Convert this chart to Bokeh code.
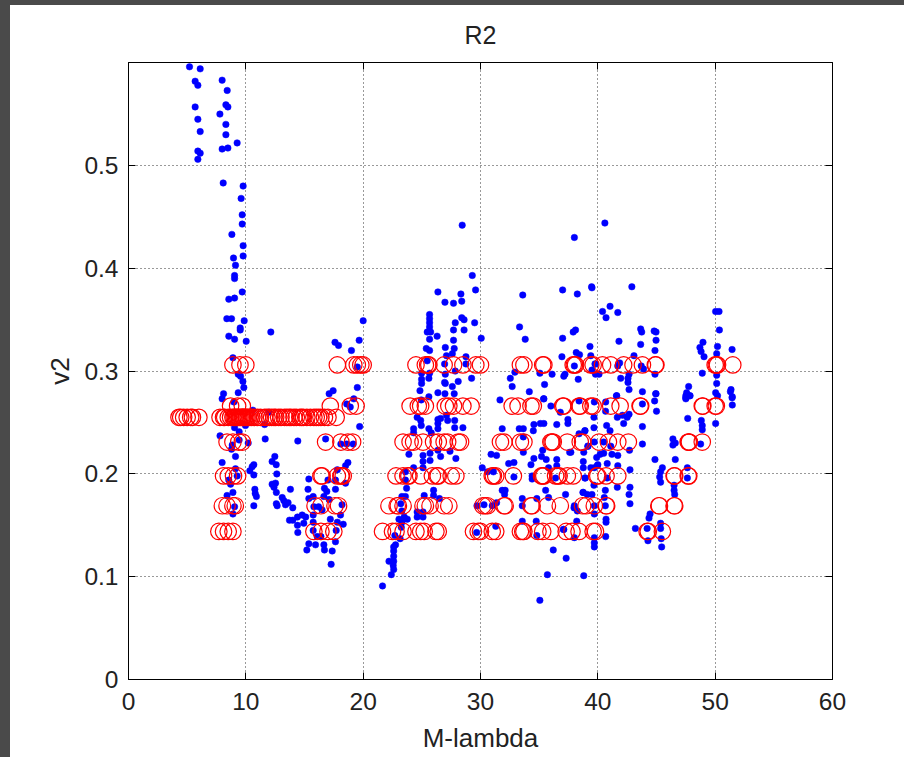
from bokeh.embed import file_html
from bokeh.resources import INLINE
from bokeh.plotting import figure
from bokeh.models import FixedTicker, LinearAxis, Range1d, ColumnDataSource

title = "R2"
x_label = "M-lambda"
y_label = "v2"
x_ticks = [0, 10, 20, 30, 40, 50, 60]
y_ticks = [0, 0.1, 0.2, 0.3, 0.4, 0.5]
x_tick_labels = ["0", "10", "20", "30", "40", "50", "60"]
y_tick_labels = ["0", "0.1", "0.2", "0.3", "0.4", "0.5"]

blue_points = [
(5.20,.596),(6.11,.594),(5.68,.582),(5.91,.578),(7.98,.583),(8.41,.573),(5.68,.557),(8.30,.559),(8.47,.557),(7.79,.550),
(5.91,.545),(8.30,.540),(6.11,.533),(8.30,.530),(9.26,.522),(8.47,.517),(7.98,.516),(5.91,.514),(6.11,.512),(5.91,.506),
(8.07,.483),(9.77,.480),(9.60,.468),(9.69,.452),(9.69,.443),(8.81,.433),(9.77,.422),(9.77,.412),(8.95,.410),(9.12,.403),
(9.04,.393),(9.04,.390),(9.69,.377),(9.04,.371),(8.55,.370),(8.38,.351),(8.78,.351),(9.86,.349),(9.52,.342),(9.52,.340),
(12.13,.338),(8.55,.334),(9.04,.331),(10.03,.329),(20.0,.349),(19.66,.330),(17.6,.328),(17.9,.325),(19.0,.320),(8.9,.313),
(19.5,.304),(9.35,.297),(9.55,.295),(9.75,.290),(9.83,.284),(9.35,.279),(8.1,.278),(7.98,.273),(8.98,.270),(10.6,.262),
(11.96,.260),(11.6,.248),(9.04,.245),(9.43,.241),(9.97,.247),(7.8,.237),(10.2,.230),(11.65,.234),(14.43,.232),(9.43,.233),
(8.84,.228),(8.78,.224),(9.12,.217),(7.98,.211),(12.47,.217),(12.24,.212),(12.59,.209),(10.68,.209),(10.54,.207),(10.34,.203),
(10.68,.199),(12.64,.200),(9.12,.205),(9.26,.198),(8.55,.194),(8.7,.190),(8.9,.182),(8.4,.179),(10.77,.185),(10.8,.181),
(10.9,.178),(10.68,.169),(12.24,.190),(12.53,.191),(12.4,.187),(12.6,.182),(12.6,.171),(12.67,.169),(13.1,.177),(13.24,.174),
(13.38,.170),(13.6,.172),(14.0,.167),(9.04,.168),(8.9,.161),(13.8,.185),(13.72,.155),(14.0,.155),(14.4,.158),(14.8,.160),
(15.1,.158),(14.4,.150),(14.94,.152),(14.43,.143),(15.37,.195),(15.3,.185),(15.37,.176),(15.74,.178),(16.7,.186),(16.9,.183),
(17.64,.185),(17.8,.204),(17.0,.194),(18.5,.208),(18.7,.211),(17.64,.194),(18.5,.191),(16.65,.178),(17.1,.175),(18.2,.170),
(18.07,.160),(17.8,.153),(18.3,.151),(17.2,.156),(15.8,.168),(15.74,.160),(15.74,.153),(16.5,.165),(16.2,.168),(15.74,.145),
(16.08,.139),(16.4,.139),(15.37,.132),(15.2,.126),(15.94,.131),(16.65,.131),(16.7,.126),(17.64,.134),(17.36,.125),(17.27,.112),
(17.7,.145),(16.8,.234),(17.1,.278),(17.44,.281),(19.5,.284),(19.2,.273),(18.6,.268),(19.7,.246),(18.9,.265),(18.1,.229),
(18.6,.229),(19.15,.229),
(28.44,.442),(38.0,.430),(29.3,.393),(29.58,.379),(26.37,.377),(28.33,.375),(26.97,.367),(27.7,.366),(28.4,.368),(25.66,.355),
(25.66,.351),(25.66,.347),(25.66,.343),(25.46,.338),(25.75,.338),(25.66,.331),(26.3,.334),(28.4,.352),(28.6,.350),(27.85,.347),
(29.5,.347),(27.7,.340),(28.6,.340),(27.7,.330),(30.06,.332),(25.38,.322),(25.66,.320),(27.0,.323),(27.76,.322),(27.6,.317),
(27.1,.315),(28.76,.314),(28.76,.307),(25.46,.310),(26.94,.307),(25.66,.298),(27.85,.300),(24.98,.298),(27.0,.297),(24.98,.292),
(24.98,.288),(25.6,.293),(26.94,.289),(27.0,.288),(28.1,.290),(29.24,.293),(27.6,.285),(24.84,.281),(26.37,.279),(26.97,.278),
(27.76,.278),(25.6,.275),(24.95,.272),
(33.6,.374),(33.33,.343),(33.81,.331),(32.93,.299),(32.54,.293),(32.7,.285),(34.16,.280),(31.66,.272),(35.06,.298),(35.46,.287),
(36.1,.297),(35.38,.273),(37.0,.379),(38.25,.375),(39.47,.382),(37.9,.338),(38.1,.340),(37.0,.332),(36.94,.314),(38.16,.318),
(38.44,.316),(38.0,.305),(37.1,.295),(37.2,.297),(38.33,.292),(39.33,.324),(39.4,.315),(39.8,.307),(39.5,.301),(39.8,.297),(40.1,.297),
(40.6,.444),(42.9,.382),(39.5,.381),(40.4,.358),(41.04,.363),(40.7,.352),(41.7,.357),(43.65,.341),(43.74,.338),(44.8,.339),
(44.96,.338),(44.96,.330),(41.8,.329),(43.65,.326),(44.87,.320),(43.08,.315),(39.76,.307),(41.86,.308),(41.7,.305),(43.7,.305),
(43.9,.302),(44.87,.297),(42.66,.297),(42.57,.293),(41.95,.293),(42.57,.289),(42.66,.282),(43.8,.280),(44.96,.278),(41.6,.276),
(50.04,.358),(50.33,.358),(50.36,.340),(48.96,.328),(48.7,.323),(48.8,.319),(49.05,.314),(50.2,.324),(50.13,.317),(51.44,.321),
(48.9,.298),(50.13,.296),(50.13,.288),(50.04,.279),(50.2,.276),(51.35,.282),(51.44,.274),(47.74,.285),(47.57,.279),(47.83,.276),(47.5,.274),
(24.6,.255),(24.9,.252),(24.95,.247),(26.37,.253),(26.37,.249),(26.37,.244),(26.6,.254),(27.1,.257),(27.2,.252),(27.8,.252),
(27.8,.245),(28.5,.245),(24.3,.244),(24.3,.240),(25.6,.244),(25.8,.240),(23.9,.219),(25.7,.220),(26.37,.223),(26.6,.217),
(27.4,.222),(27.9,.215),(25.1,.218),(25.1,.212),(25.1,.206),(25.7,.213),(24.3,.206),(23.6,.202),(23.6,.194),(23.7,.186),
(31.85,.244),(33.3,.244),(33.65,.244),(33.65,.236),(33.65,.221),(30.9,.219),(31.37,.218),(32.4,.210),(32.85,.211),(30.15,.206),
(30.6,.202),(31.1,.202),(32.85,.197),(31.85,.184),(32.1,.184),(32.05,.180),(34.55,.248),(34.5,.242),(35.1,.249),(35.4,.249),
(36.5,.248),(34.55,.215),(34.3,.209),(35.3,.223),(35.2,.217),(35.6,.214),(36.5,.214),(36.5,.208),(35.8,.206),(34.4,.198),
(34.4,.195),(35.55,.184),(36.4,.196),(37.25,.180),(37.45,.253),(37.45,.249),(38.4,.239),(38.9,.242),(37.6,.221),(38.8,.221),
(39.15,.227),(38.76,.212),(38.76,.206),(39.95,.208),(39.7,.206),(38.9,.196),(38.76,.182),(39.1,.180),(39.5,.180),
(25.2,.179),(26.0,.184),(26.0,.179),(26.5,.176),(23.3,.178),(23.6,.178),(23.2,.171),(23.3,.164),(23.5,.158),(23.05,.156),
(23.3,.153),(23.76,.156),(24.6,.163),(24.6,.158),(25.1,.163),(25.1,.158),(23.25,.148),(22.7,.140),(23.15,.137),(22.76,.131),
(22.6,.129),(22.6,.125),(22.6,.120),(22.2,.115),(22.6,.115),(22.56,.111),(22.6,.107),(22.4,.102),(21.65,.091),
(29.7,.169),(30.3,.170),(31.0,.169),(31.37,.172),(29.67,.143),(31.3,.149),(33.56,.176),(33.56,.169),(34.8,.176),(35.8,.177),
(33.56,.154),(34.75,.154),(34.8,.140),(36.2,.126),(37.3,.118),(35.7,.102),(38.8,.101),(35.06,.077),(37.1,.146),(38.2,.154),
(38.0,.169),(39.7,.169),(39.7,.161),(39.7,.138),(39.7,.133),(39.7,.129),(38.0,.138),
(43.8,.246),(43.8,.229),(42.7,.223),(42.74,.204),(42.74,.187),(42.66,.180),(42.74,.171),(41.66,.187),(41.7,.208),(41.7,.218),
(41.2,.219),(40.8,.210),(40.64,.184),(40.55,.177),(40.64,.169),(40.7,.156),(40.7,.153),(40.67,.139),(44.87,.214),(46.6,.214),
(45.5,.206),(45.35,.202),(45.27,.197),(45.35,.192),(46.5,.189),(46.5,.184),(46.55,.180),(47.63,.206),(47.63,.196),(44.45,.161),
(44.36,.157),(43.2,.147),(44.2,.147),(45.35,.152),(45.35,.147),(45.4,.137),(44.27,.135),(45.44,.129),(46.4,.234),(46.4,.228),
(46.6,.230),(48.82,.252),(48.9,.247),(48.9,.243),(50.04,.249),(47.66,.254),(47.5,.276),(47.86,.276),(47.5,.273),(48.76,.229),
(44.93,.278),(44.84,.271),(45.0,.261),(43.8,.268),(51.46,.275),(51.46,.267),(51.3,.280),
(41.6,.276),(42.5,.255),(42.2,.249),(41.66,.255),(42.1,.257),(42.66,.258),(40.66,.261),(40.75,.247),(41.04,.242),(39.67,.255),
(39.67,.245),(38.9,.242),(39.7,.231),(39.16,.227),(40.5,.231),(41.1,.227),(37.7,.221),(40.5,.220),(39.9,.216),(40.2,.219),
(40.0,.209),(39.4,.206),(38.93,.196),(40.8,.196),(39.67,.189),(38.73,.182),(37.97,.167),(38.25,.164),(37.06,.146),(36.8,.260),
(36.0,.266),(35.4,.273),(38.4,.271),(39.7,.270),(40.67,.270),
]
blue_x = [pt[0] for pt in blue_points]
blue_y = [pt[1] for pt in blue_points]

red_rows = {
    .144: [7.7,8.1,8.5,8.9,15.8,16.4,17.0,17.5,21.65,22.5,22.8,23.4,24.5,24.9,25.2,26.2,26.4,29.4,29.8,30.0,31.0,31.3,33.4,33.6,33.7,34.9,35.3,36.0,37.3,37.8,38.4,39.6,39.8,44.2,44.3,45.5],
    .169: [8.0,8.4,8.9,9.1,15.9,16.4,17.6,17.9,22.2,22.9,23.0,23.4,25.1,25.3,25.7,26.9,27.3,30.2,30.4,30.6,32.0,32.1,34.3,34.4,35.7,36.8,38.7,39.0,39.7,40.7,40.75,45.2,45.25,46.5,46.55],
    .198: [8.1,8.5,8.95,9.3,16.4,16.5,17.8,18.1,18.15,18.3,22.8,23.4,23.8,23.9,24.9,25.9,26.3,26.4,27.5,27.9,31.0,31.1,31.3,32.8,35.2,35.3,35.4,36.4,36.6,36.7,37.4,37.9,39.9,40.0,40.7,41.7,46.5,46.55,47.7,47.75],
    .231: [8.4,8.9,9.4,9.7,16.8,18.1,18.7,19.1,23.4,24.0,24.3,25.1,26.0,26.4,26.9,27.2,28.1,28.3,31.7,32.0,33.4,33.7,36.0,36.1,36.2,37.4,38.5,38.7,40.1,40.9,41.7,42.6,47.7,47.75,47.8,48.9],
    .255: [4.3,4.45,4.7,5.0,5.3,5.45,6.0,7.8,8.1,8.2,8.5,8.7,8.9,9.0,9.1,9.2,9.3,9.4,9.5,9.6,9.7,9.75,9.8,9.9,10.0,10.1,10.2,10.35,10.5,10.7,11.0,11.25,11.6,11.8,12.0,12.2,12.4,12.55,12.8,13.0,13.3,13.5,13.7,13.85,14.1,14.3,14.6,14.75,14.9,15.2,15.5,15.8,16.0,16.2,16.4,16.7,17.0,17.7],
    .266: [8.7,9.3,9.7,17.2,18.9,19.4,24.0,24.7,24.9,25.3,27.0,27.3,27.7,28.5,29.2,32.7,33.2,34.3,34.5,37.0,37.1,38.4,38.5,39.4,39.6,41.1,41.9,43.6,43.65,48.9,48.95,50.0,50.1],
    .306: [8.9,9.5,10.0,17.8,19.2,19.5,19.8,20.0,24.5,25.3,25.5,25.6,26.9,27.7,28.5,29.6,30.0,33.4,33.7,35.3,35.4,37.9,38.0,38.1,39.4,39.6,40.4,41.1,42.2,43.0,43.8,44.9,44.95,50.0,50.1,50.2,51.5],
}
red_x = [x for row in red_rows.values() for x in row]
red_y = [y for y, row in red_rows.items() for _ in row]

FONT = "Liberation Sans"

p = figure(width=904, height=757, output_backend="svg", toolbar_location=None,
           x_range=Range1d(0, 60), y_range=Range1d(0, 0.6002),
           min_border_left=128, min_border_right=72, min_border_top=62, min_border_bottom=78,
           title=title)
p.title.align = "center"
p.title.text_font = FONT
p.title.text_font_size = "25px"
p.title.text_font_style = "normal"
p.title.text_color = "#222222"
p.title.standoff = 27

p.background_fill_color = "white"
p.border_fill_color = None
p.outline_line_color = "black"
p.outline_line_width = 1

ax, ay = p.xaxis[0], p.yaxis[0]
ax.ticker = FixedTicker(ticks=x_ticks)
ay.ticker = FixedTicker(ticks=y_ticks)
ax.major_label_overrides = dict(zip(x_ticks, x_tick_labels))
ay.major_label_overrides = dict(zip(y_ticks, y_tick_labels))
ax.axis_label = x_label
ay.axis_label = y_label
for a in (ax, ay):
    a.major_tick_in = 7
    a.major_tick_out = 0
    a.minor_tick_line_color = None
    a.axis_line_color = "black"
    a.major_tick_line_color = "black"
    a.major_label_text_font = FONT
    a.major_label_text_font_size = "24.5px"
    a.major_label_text_color = "#222222"
    a.axis_label_text_font = FONT
    a.axis_label_text_font_size = "26px"
    a.axis_label_text_font_style = "normal"
    a.axis_label_text_color = "#222222"
ax.major_label_standoff = 13
ay.major_label_standoff = 10
ax.axis_label_standoff = 10
ay.axis_label_standoff = 6
ay.major_label_orientation = "horizontal"

for loc, ticks in (("above", x_ticks), ("right", y_ticks)):
    extra = LinearAxis(ticker=FixedTicker(ticks=ticks), major_tick_in=7, major_tick_out=0,
                       minor_tick_line_color=None, major_label_text_font_size="0px",
                       major_label_text_color=None, axis_line_color="black",
                       major_tick_line_color="black")
    p.add_layout(extra, loc)

for g in (p.xgrid[0], p.ygrid[0]):
    g.grid_line_color = "#333333"
    g.grid_line_dash = "1 3"
    g.grid_line_width = 1
p.xgrid[0].ticker = FixedTicker(ticks=x_ticks)
p.ygrid[0].ticker = FixedTicker(ticks=y_ticks)

blue = ColumnDataSource(dict(x=blue_x, y=blue_y))
red = ColumnDataSource(dict(x=red_x, y=red_y))
p.scatter("x", "y", source=blue, size=6.5, marker="circle", fill_color="#0000ff", line_color="#0000ff", line_width=0.5)
p.scatter("x", "y", source=red, size=16.5, marker="circle", fill_color=None, line_color="#ff0000", line_width=1.2)

html = file_html(p, INLINE)
css = ("<style>html,body{background:linear-gradient(#4a4a4a 5px,transparent 5px),"
       "linear-gradient(90deg,#4a4a4a 10px,#ffffff 10px);}</style></head>")
html = html.replace("</head>", css, 1)
open("out.html", "w").write(html)
